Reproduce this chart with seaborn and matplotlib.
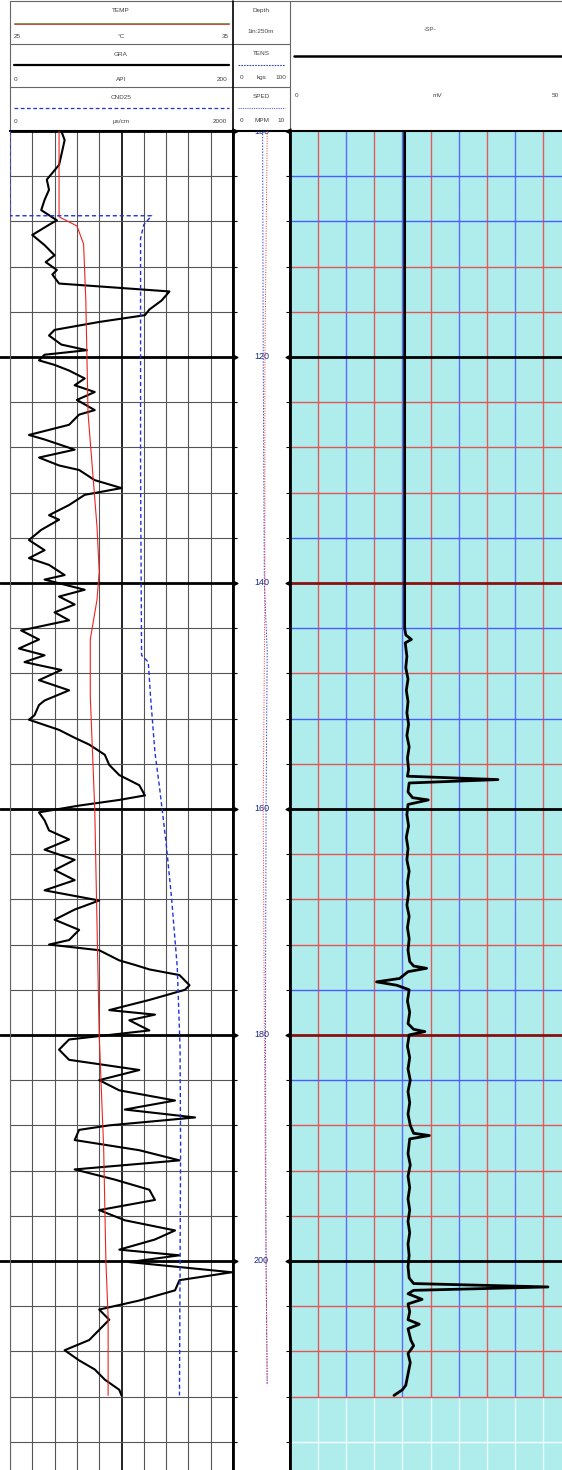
import numpy as np
import matplotlib
matplotlib.use("Agg")
import matplotlib.pyplot as plt
import seaborn as sns

# === Style ===
sns.set_theme(style="white")
plt.rcParams["font.family"] = ["Liberation Sans", "DejaVu Sans"]

W, H = 562, 1470
DEPTH_TOP, DEPTH_BOT = 100.0, 218.5

# === Curve data (depth in m, values in track units) ===
gr_depth = [100.0, 100.8, 101.7, 103.0, 104.3, 105.2, 106.1, 107.0, 107.9, 108.3, 109.2, 110.1,
            111.0, 111.6, 112.3, 112.7, 113.5, 114.1, 114.2, 115.0, 115.8, 116.3, 116.9, 117.6,
            118.1, 118.9, 119.4, 119.8, 120.3, 120.7, 121.2, 121.9, 122.5, 123.1, 123.8, 124.7,
            125.1, 126.0, 126.9, 127.3, 128.2, 128.9, 129.6, 130.0, 130.9, 131.6, 132.2, 133.1,
            134.0, 134.4, 135.3, 136.2, 137.1, 137.8, 138.4, 139.3, 139.7, 140.6, 141.2, 141.9,
            142.6, 143.3, 144.2, 145.0, 145.8, 146.4, 147.0, 147.7, 148.6, 149.5, 150.4, 150.8,
            151.7, 152.1, 153.0, 153.7, 154.3, 155.2, 156.1, 157.0, 157.9, 158.8, 159.2, 159.7,
            160.3, 161.0, 161.9, 162.7, 163.6, 164.5, 165.4, 166.3, 167.2, 168.1, 168.9, 169.8,
            170.7, 171.6, 172.0, 172.5, 173.4, 173.8, 174.2, 174.7, 175.6, 176.0, 176.9, 177.8,
            178.2, 178.7, 179.6, 180.4, 181.3, 182.2, 183.1, 184.0, 184.9, 185.8, 186.6, 187.3,
            188.0, 188.4, 189.3, 190.2, 191.1, 191.9, 192.8, 193.7, 194.6, 195.5, 196.4, 197.3,
            198.1, 199.0, 199.5, 200.1, 201.0, 201.7, 202.6, 203.5, 204.3, 205.2, 206.1, 207.0,
            207.9, 208.8, 209.6, 210.5, 211.4, 211.9]
gr_api = [46, 49, 47, 44, 33, 35, 31, 28, 42, 35, 20, 31,
          40, 32, 42, 38, 44, 130, 143, 136, 125, 121, 80, 40,
          35, 46, 69, 31, 26, 40, 53, 67, 58, 76, 60, 76,
          62, 53, 17, 31, 58, 26, 44, 62, 76, 100, 67, 53,
          35, 44, 28, 17, 31, 17, 35, 49, 31, 67, 44, 58,
          40, 53, 10, 26, 8, 31, 13, 46, 26, 53, 31, 26,
          22, 17, 44, 58, 71, 85, 89, 98, 116, 121, 98, 62,
          26, 31, 35, 53, 31, 58, 40, 58, 31, 80, 58, 40,
          62, 53, 35, 80, 98, 112, 125, 152, 161, 157, 125, 89,
          130, 107, 125, 53, 44, 53, 116, 80, 98, 148, 103, 166,
          89, 62, 58, 116, 152, 58, 94, 125, 130, 80, 103, 148,
          130, 98, 152, 107, 199, 152, 148, 116, 80, 89, 80, 71,
          49, 62, 76, 85, 98, 100]

temp_depth = [100.0, 107.6, 108.4, 110.0, 115.0, 125.0, 135.0, 139.0, 141.5, 145.0,
              150.0, 160.0, 170.0, 180.0, 190.0, 200.0, 205.0, 211.9]
temp_c = [27.2, 27.2, 28.0, 28.3, 28.4, 28.5, 28.9, 29.0, 28.9, 28.6,
          28.6, 28.8, 28.9, 29.0, 29.2, 29.3, 29.4, 29.4]

cnd_depth = [100.0, 107.5, 107.5, 108.3, 109.5, 130.0, 146.4, 147.0, 150.0, 155.0,
             158.0, 163.0, 168.0, 174.0, 181.0, 190.0, 211.9]
cnd_us = [0, 0, 1270, 1200, 1171, 1171, 1180, 1240, 1260, 1300,
          1340, 1400, 1450, 1500, 1525, 1530, 1520]

tens_depth = [100.0, 120.0, 140.0, 146.0, 160.0, 180.0, 200.0, 211.0]
tens_kgs = [52, 53, 55, 60, 58, 57, 58, 60]

sped_depth = [100.0, 120.0, 140.0, 160.0, 180.0, 200.0, 211.0]
sped_mpm = [6.0, 5.6, 5.6, 5.3, 5.5, 5.8, 6.0]

sp_depth = [100.0, 144.0, 144.6, 145.0, 145.3, 146.5, 147.5, 148.5, 149.5, 150.5,
            151.5, 152.5, 153.5, 154.5, 155.5, 156.5, 157.1, 157.4, 157.7, 158.5,
            159.0, 159.2, 159.6, 160.5, 161.5, 162.5, 163.5, 164.5, 165.5, 166.5,
            167.5, 168.5, 169.5, 170.5, 171.5, 172.5, 173.5, 173.9, 174.1, 174.4,
            175.0, 175.3, 175.6, 176.0, 177.0, 178.0, 179.0, 179.5, 179.7, 180.0,
            181.0, 182.0, 183.0, 184.0, 185.0, 186.0, 187.0, 188.0, 188.7, 188.9,
            189.2, 190.5, 191.5, 192.5, 193.5, 194.5, 195.5, 196.5, 197.5, 198.5,
            199.5, 200.5, 201.5, 202.0, 202.3, 202.6, 202.9, 203.4, 203.8, 204.5,
            205.2, 205.6, 206.0, 207.0, 207.5, 208.2, 209.0, 210.0, 211.0, 211.4,
            211.9]
sp_mv = [20.4, 20.4, 20.6, 21.6, 20.5, 20.8, 20.6, 21.0, 20.7, 21.0,
         20.8, 21.1, 20.8, 21.2, 20.9, 21.1, 20.9, 37.0, 21.2, 21.0,
         21.8, 24.6, 21.0, 20.8, 21.1, 20.7, 21.0, 20.8, 21.2, 20.9,
         21.1, 20.8, 21.2, 20.9, 21.2, 21.0, 21.3, 22.0, 24.3, 21.0,
         19.5, 15.4, 19.0, 21.2, 20.9, 21.3, 21.0, 22.0, 24.0, 21.2,
         20.9, 21.3, 21.0, 21.4, 21.0, 21.3, 21.0, 21.4, 22.0, 24.8,
         21.3, 21.0, 21.4, 21.0, 21.3, 21.0, 21.3, 21.0, 21.3, 21.0,
         21.2, 21.0, 21.2, 22.0, 45.9, 22.0, 21.0, 23.5, 21.0, 21.3,
         21.0, 23.0, 21.0, 21.5, 22.0, 21.0, 21.4, 21.0, 20.6, 20.0,
         18.5]

depth_ticks = np.arange(100, 219, 4)
depth_labels = [100, 120, 140, 160, 180, 200]

# right-track grid colours, one per 4 m line from 104 m
sp_hline_colors = ["#4a5cff", "#4a5cff", "#e05555", "#e05555", "black",
                   "#e05555", "#e05555", "#e05555", "#4a5cff", "#8b1010",
                   "#4a5cff", "#e05555", "#4a5cff", "#e05555", "black",
                   "#e05555", "#e05555", "#e05555", "#4a5cff", "#8b1010",
                   "#4a5cff", "#e05555", "#e05555", "#e05555", "black",
                   "#e05555", "#e05555", "#e05555", "#f4ffff"]

fig = plt.figure(figsize=(W / 100, H / 100), dpi=100)


def px_axes(x0, y0, x1, y1):
    return fig.add_axes([x0 / W, 1 - y1 / H, (x1 - x0) / W, (y1 - y0) / H])


def draw_curve(ax, vals, depth, **kw):
    sns.lineplot(x=vals, y=depth, orient="y", sort=False, estimator=None, ax=ax, **kw)


def clean(ax):
    ax.set_xlabel("")
    ax.set_ylabel("")
    ax.tick_params(labelbottom=False, labelleft=False, labeltop=False, length=0)


# === Header ===
hdr = fig.add_axes([0, 0, 1, 1])
hdr.set_xlim(0, W)
hdr.set_ylim(H, 0)
hdr.axis("off")
hdr.set_zorder(-1)
gcol = "#666666"
tkw = dict(fontsize=4.6, color="#444444", ha="center", va="center")
hdr.plot([10, 290], [1, 1], color=gcol, lw=0.8)
hdr.plot([10, 10], [1, 131], color=gcol, lw=0.8)
hdr.plot([10, 290], [44, 44], color=gcol, lw=0.8)
hdr.plot([10, 290], [87, 87], color=gcol, lw=0.8)
hdr.plot([233, 233], [1, 131], color="black", lw=1.2)
hdr.plot([290, 562], [1, 1], color=gcol, lw=0.8)
hdr.plot([290, 290], [1, 131], color=gcol, lw=0.8)

hdr.text(121, 10, "TEMP", **tkw)
hdr.plot([14, 229], [22.6, 22.6], color="#7a9a3a", lw=0.7)
hdr.plot([14, 229], [23.6, 23.6], color="#d04545", lw=0.7)
hdr.text(17, 36, "25", **tkw)
hdr.text(121, 36, "°C", **tkw)
hdr.text(225, 36, "35", **tkw)

hdr.text(121, 54, "GRA", **tkw)
hdr.plot([14, 229], [65, 65], color="black", lw=1.6)
hdr.text(16, 79, "0", **tkw)
hdr.text(121, 79, "API", **tkw)
hdr.text(222, 79, "200", **tkw)

hdr.text(121, 97, "CND25", **tkw)
hdr.plot([14, 229], [108, 108], color="#2233dd", lw=0.9, ls=(0, (3, 2)))
hdr.text(16, 121, "0", **tkw)
hdr.text(121, 121, "µs/cm", **tkw)
hdr.text(220, 121, "2000", **tkw)

hdr.text(261, 10, "Depth", **tkw)
hdr.text(261, 31, "1in:250m", **tkw)
hdr.text(261, 53, "TENS", **tkw)
hdr.plot([238, 285], [65, 65], color="#3344cc", lw=0.8, ls=(0, (1.5, 1)))
hdr.text(242, 77, "0", **tkw)
hdr.text(262, 77, "kgs", **tkw)
hdr.text(281, 77, "100", **tkw)
hdr.text(261, 96, "SPED", **tkw)
hdr.plot([238, 285], [108, 108], color="#5566dd", lw=0.8, ls=(0, (1, 1)))
hdr.text(242, 120, "0", **tkw)
hdr.text(262, 120, "MPM", **tkw)
hdr.text(281, 120, "10", **tkw)

hdr.text(430, 29, "-SP-", **tkw)
hdr.plot([294, 562], [56, 56], color="black", lw=1.8)
hdr.text(297, 95, "0", **tkw)
hdr.text(437, 95, "mV", **tkw)
hdr.text(555, 95, "50", **tkw)

# === Left track: GR / TEMP / CND25 ===
ax_l = px_axes(10, 131, 233, H)
draw_curve(ax_l, gr_api, gr_depth, color="black", linewidth=1.5)
ax_l.set_xlim(0, 200)
ax_l.set_ylim(DEPTH_BOT, DEPTH_TOP)
ax_l.set_xticks(np.arange(0, 201, 20))
ax_l.set_yticks(depth_ticks)
ax_l.grid(True, color="#555555", lw=0.8)
ax_l.set_axisbelow(True)
for line, val in zip(ax_l.get_ygridlines(), depth_ticks):
    if val % 20 == 0:
        line.set_color("black")
        line.set_linewidth(2)
for line, val in zip(ax_l.get_xgridlines(), np.arange(0, 201, 20)):
    if val == 100:
        line.set_color("black")
        line.set_linewidth(1.2)
for d in depth_labels[1:]:
    ax_l.axhline(d, xmin=-0.045, xmax=0, color="black", lw=2, clip_on=False)
clean(ax_l)
ax_l.spines["left"].set_color(gcol)
ax_l.spines["left"].set_linewidth(0.8)
ax_l.spines["bottom"].set_visible(False)
ax_l.spines["right"].set_color("black")
ax_l.spines["right"].set_linewidth(2)
ax_l.spines["top"].set_color("black")
ax_l.spines["top"].set_linewidth(1.5)

ax_t = ax_l.twiny()
draw_curve(ax_t, temp_c, temp_depth, color="#ee2222", linewidth=0.8)
ax_t.set_xlim(25, 35)
ax_c = ax_l.twiny()
draw_curve(ax_c, cnd_us, cnd_depth, color="#2233dd", linewidth=1.0, linestyle=(0, (3, 2)))
ax_c.set_xlim(0, 2000)
for ax in (ax_t, ax_c):
    ax.set_ylim(DEPTH_BOT, DEPTH_TOP)
    ax.set_xticks([])
    clean(ax)
    for s in ax.spines.values():
        s.set_visible(False)

# === Depth track: TENS / SPED ===
ax_d = px_axes(233, 131, 290, H)
draw_curve(ax_d, tens_kgs, tens_depth, color="#3344dd", linewidth=0.7, linestyle=(0, (1.5, 1.5)))
ax_d.set_xlim(0, 100)
ax_d.set_ylim(DEPTH_BOT, DEPTH_TOP)
ax_s = ax_d.twiny()
draw_curve(ax_s, sped_mpm, sped_depth, color="#ee3333", linewidth=0.7, linestyle=(0, (1, 1.5)))
ax_s.set_xlim(0, 10)
ax_s.set_ylim(DEPTH_BOT, DEPTH_TOP)
ax_s.set_xticks([])
clean(ax_s)
for s in ax_s.spines.values():
    s.set_visible(False)
ax_d.set_xticks([])
ax_d.set_yticks(depth_ticks)
ax_d.set_xlabel("")
ax_d.set_ylabel("")
ax_d.tick_params(axis="y", left=True, right=True, direction="in", length=3, width=0.8,
                 color="black", labelleft=False)
for side in ("left", "right"):
    ax_d.spines[side].set_color("black")
    ax_d.spines[side].set_linewidth(2)
ax_d.spines["top"].set_color("black")
ax_d.spines["top"].set_linewidth(1.5)
ax_d.spines["bottom"].set_visible(False)
trans = ax_d.get_yaxis_transform()
ax_d.scatter([0.04] * len(depth_labels), depth_labels, marker=">", s=12, color="black",
             transform=trans, clip_on=False, zorder=5)
ax_d.scatter([0.96] * len(depth_labels), depth_labels, marker="<", s=12, color="black",
             transform=trans, clip_on=False, zorder=5)
for d in depth_labels:
    ax_d.text(0.5, d, str(d), transform=trans, ha="center", va="center", fontsize=6.5,
              color="#1c2a8c", clip_on=True, zorder=6)

# === Right track: SP ===
SP_MAX = (562 - 290) / 28.1 * 5
ax_r = px_axes(290, 131, 562, H)
ax_r.set_facecolor("#afeded")
ax_r.set_xlim(0, SP_MAX)
ax_r.set_ylim(DEPTH_BOT, DEPTH_TOP)
vx = np.arange(5, SP_MAX, 5)
ax_r.vlines(vx, DEPTH_TOP, 212, colors=["#5a6cff" if i % 2 else "#e05a5a" for i in range(len(vx))],
            lw=1.0, zorder=1)
ax_r.vlines(vx, 212, DEPTH_BOT, colors="#e8fafa", lw=1.0, zorder=1)
for d, c in zip(depth_ticks[1:], sp_hline_colors):
    heavy = d % 20 == 0
    ax_r.axhline(d, color=c, lw=2 if heavy else 1.0, zorder=1.5)
draw_curve(ax_r, sp_mv, sp_depth, color="black", linewidth=2.0, zorder=3)
clean(ax_r)
ax_r.spines["left"].set_color("black")
ax_r.spines["left"].set_linewidth(2)
ax_r.spines["top"].set_color("black")
ax_r.spines["top"].set_linewidth(1.5)
ax_r.spines["right"].set_visible(False)
ax_r.spines["bottom"].set_visible(False)

fig.savefig("out.png", dpi=100)
